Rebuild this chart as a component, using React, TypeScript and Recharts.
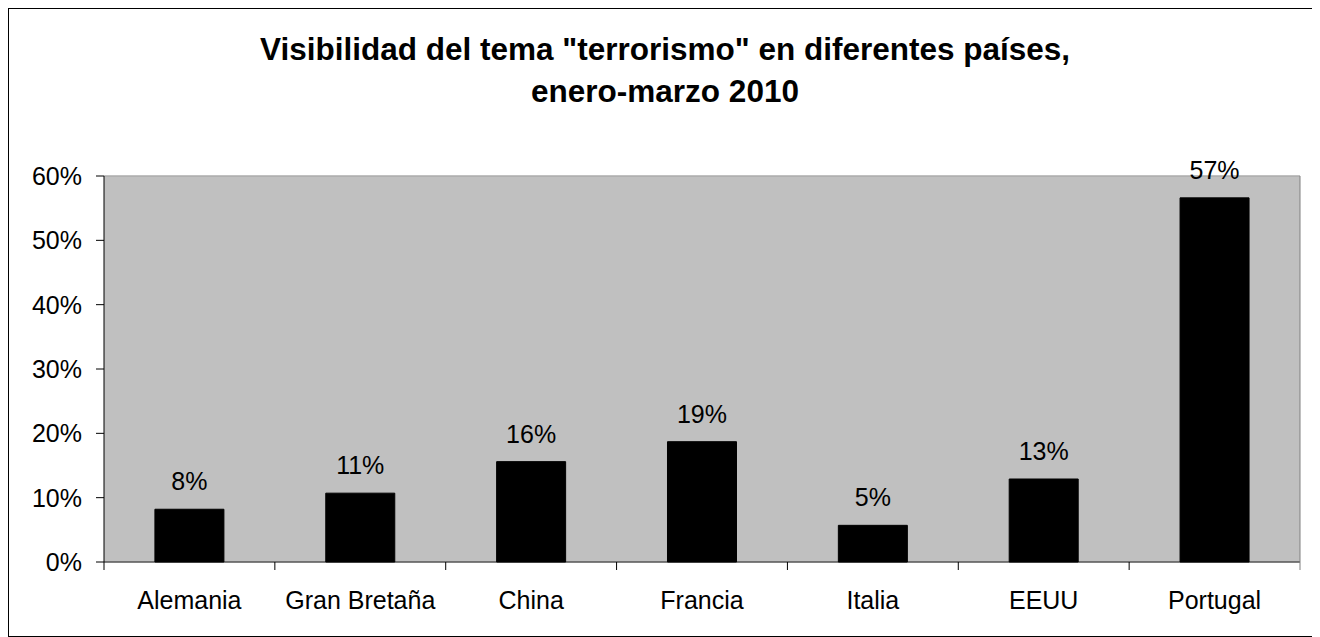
import { BarChart, Bar, XAxis, YAxis, CartesianGrid, LabelList, ReferenceLine } from "recharts"

const countries = ["Alemania", "Gran Bretaña", "China", "Francia", "Italia", "EEUU", "Portugal"]
const visibility = [8.2, 10.7, 15.6, 18.7, 5.7, 12.9, 56.6]
const valueLabels = ["8%", "11%", "16%", "19%", "5%", "13%", "57%"]
const yTicks = [0, 10, 20, 30, 40, 50, 60]
const titleLines = ['Visibilidad del tema "terrorismo" en diferentes países,', "enero-marzo 2010"]

const data = countries.map((name, i) => ({ name, value: visibility[i], label: valueLabels[i] }))

const FONT = '"Liberation Sans", Arial, Helvetica, sans-serif'
const CHART_W = 1308
const CHART_H = 627
const MARGIN = { top: 167, right: 16, bottom: 24, left: 35 }
const Y_AXIS_W = 60
const PLOT_W = CHART_W - MARGIN.left - Y_AXIS_W - MARGIN.right - 1
const X_TICK_SIZE = 8
const X_TICK_MARGIN = 21

function CategoryTick(props: any) {
  const { x, y, payload, index } = props
  const half = PLOT_W / countries.length / 2
  const axisY = y - X_TICK_SIZE - X_TICK_MARGIN
  return (
    <g>
      <line x1={x - half} x2={x - half} y1={axisY} y2={axisY + X_TICK_SIZE} stroke="#000" />
      {index === countries.length - 1 && (
        <line x1={x + half} x2={x + half} y1={axisY} y2={axisY + X_TICK_SIZE} stroke="#808080" />
      )}
      <text x={x} y={y} dy="0.71em" textAnchor="middle" fill="#000" fontSize={25} fontFamily={FONT}>
        {payload.value}
      </text>
    </g>
  )
}

export default function App() {
  return (
    <div
      style={{
        position: "relative",
        width: 1310,
        height: 629,
        border: "1px solid #000",
        boxSizing: "border-box",
        background: "#fff",
        fontFamily: FONT,
      }}
    >
      <div
        style={{
          position: "absolute",
          top: 18.5,
          left: 4,
          right: 0,
          textAlign: "center",
          fontWeight: "bold",
          fontSize: 31.5,
          lineHeight: "42.5px",
          color: "#000",
        }}
      >
        {titleLines.map((t) => (
          <div key={t}>{t}</div>
        ))}
      </div>
      <BarChart width={CHART_W} height={CHART_H} data={data} margin={MARGIN} barCategoryGap="29.8%">
        <CartesianGrid vertical={false} stroke="#fff" fill="#c0c0c0" />
        <XAxis
          dataKey="name"
          height={50}
          axisLine={{ stroke: "#000" }}
          tickLine={false}
          tickSize={X_TICK_SIZE}
          tickMargin={X_TICK_MARGIN}
          interval={0}
          tick={<CategoryTick />}
        />
        <YAxis
          yAxisId="left"
          width={Y_AXIS_W}
          domain={[0, 60]}
          ticks={yTicks}
          tickFormatter={(v: number) => `${v}%`}
          axisLine={{ stroke: "#000" }}
          tickLine={{ stroke: "#000" }}
          tickSize={8}
          tickMargin={14}
          tick={{ fill: "#000", fontSize: 25, fontFamily: FONT }}
        />
        <YAxis
          yAxisId="right"
          orientation="right"
          width={1}
          domain={[0, 60]}
          tick={false}
          tickLine={false}
          axisLine={{ stroke: "#808080" }}
        />
        <ReferenceLine yAxisId="left" y={60} stroke="#808080" />
        <Bar yAxisId="left" dataKey="value" fill="#000" stroke="#000" isAnimationActive={false}>
          <LabelList dataKey="label" position="top" offset={19} fill="#000" fontSize={25} fontFamily={FONT} />
        </Bar>
      </BarChart>
    </div>
  )
}
